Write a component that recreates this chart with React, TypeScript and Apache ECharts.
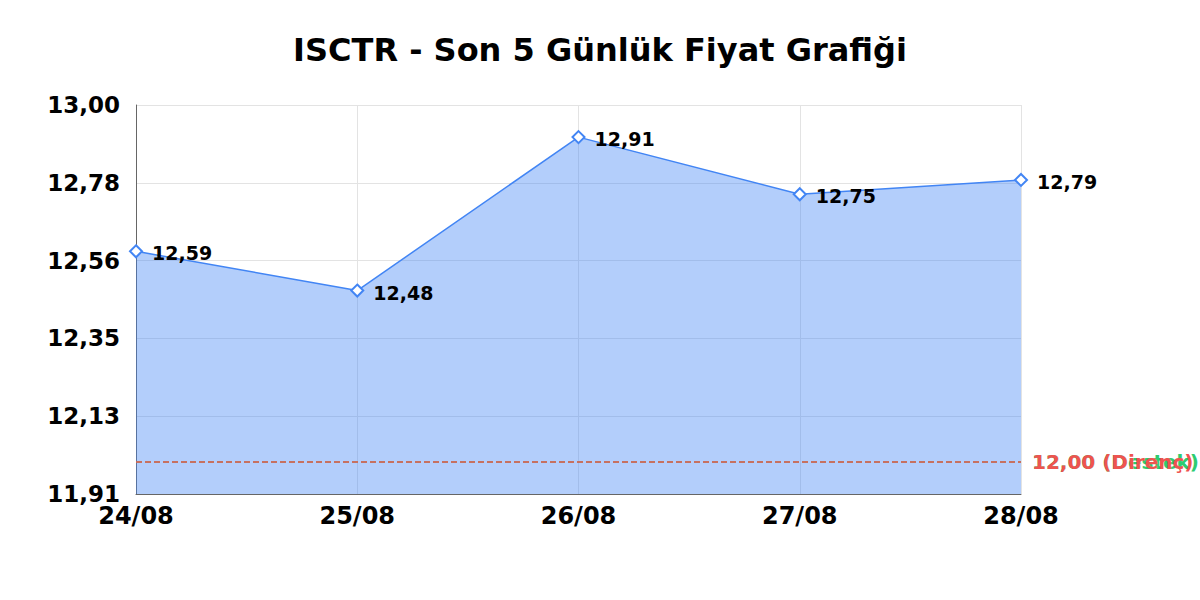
import React, { useEffect, useRef } from "react";
import * as echarts from "echarts";

const titleText = "ISCTR - Son 5 Günlük Fiyat Grafiği";
const categories = ["24/08", "25/08", "26/08", "27/08", "28/08"];
const prices = [12.59, 12.48, 12.91, 12.75, 12.79];
const supportLevel = 12.0;
const resistanceLevel = 12.0;
const yMin = 11.91;
const yMax = 13.0;

const fmt = (v: number) => v.toFixed(2).replace(".", ",");

export default function App() {
  const ref = useRef<HTMLDivElement>(null);
  useEffect(() => {
    if (!ref.current) return;
    const chart = echarts.init(ref.current, null, { renderer: "svg" });
    const font = "DejaVu Sans";
    chart.setOption({
      animation: false,
      backgroundColor: "#ffffff",
      title: {
        text: titleText,
        left: "center",
        top: 29,
        textStyle: { fontFamily: font, fontSize: 32, fontWeight: "bold", color: "#000" },
      },
      grid: { left: 136, right: 179, top: 105, bottom: 106, containLabel: false },
      xAxis: {
        type: "category",
        data: categories,
        boundaryGap: false,
        axisLine: { show: true, lineStyle: { color: "#666", width: 1 } },
        axisTick: { show: false },
        axisLabel: { fontFamily: font, fontSize: 24, fontWeight: "bold", color: "#000", margin: 10 },
        splitLine: { show: true, lineStyle: { color: "#e3e3e3" } },
      },
      yAxis: {
        type: "value",
        min: yMin,
        max: yMax,
        interval: (yMax - yMin) / 5,
        axisLine: { show: true, lineStyle: { color: "#666", width: 1 } },
        axisTick: { show: false },
        axisLabel: {
          fontFamily: font,
          fontSize: 23,
          fontWeight: "bold",
          color: "#000",
          margin: 16,
          formatter: (v: number) => fmt(v),
        },
        splitLine: { show: true, lineStyle: { color: "#e3e3e3" } },
      },
      series: [
        {
          type: "line",
          data: prices,
          symbol: "diamond",
          symbolSize: 12,
          itemStyle: { color: "#ffffff", borderColor: "#4285f4", borderWidth: 2 },
          lineStyle: { color: "#4285f4", width: 1.5 },
          areaStyle: { color: "#4285f4", opacity: 0.4 },
          label: {
            show: true,
            position: "right",
            distance: 9,
            offset: [0, 2],
            fontFamily: font,
            fontSize: 19,
            fontWeight: "bold",
            color: "#000",
            formatter: (p: any) => fmt(p.value),
          },
          markLine: {
            silent: true,
            symbol: "none",
            data: [
              {
                yAxis: supportLevel,
                lineStyle: { color: "#2ecc71", type: "dashed", width: 1.5 },
                label: {
                  show: true,
                  position: "end",
                  distance: 11,
                  formatter: fmt(supportLevel) + " (Destek)",
                  color: "#2ecc71",
                  fontFamily: font,
                  fontSize: 20,
                  fontWeight: "bold",
                },
              },
              {
                yAxis: resistanceLevel,
                lineStyle: { color: "#ef5350", type: "dashed", width: 1.5 },
                label: {
                  show: true,
                  position: "end",
                  distance: 11,
                  formatter: fmt(resistanceLevel) + " (Direnç)",
                  color: "#ef5350",
                  fontFamily: font,
                  fontSize: 20,
                  fontWeight: "bold",
                },
              },
            ],
          },
        },
      ],
    });
    return () => chart.dispose();
  }, []);
  return (
    <div
      ref={ref}
      style={{ position: "absolute", left: 0, top: 0, width: 1200, height: 600 }}
    />
  );
}
